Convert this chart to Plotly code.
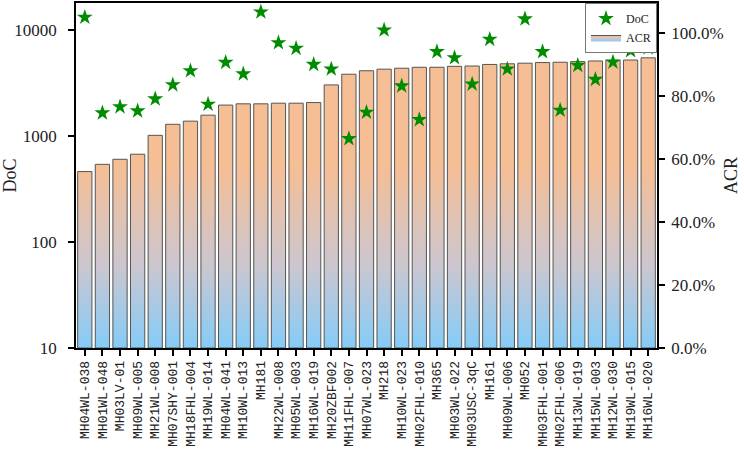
import plotly.graph_objects as go

samples = ["MH04WL-038", "MH01WL-048", "MH03LV-01", "MH09WL-005", "MH21WL-008",
           "MH07SHY-001", "MH18FHL-004", "MH19WL-014", "MH04WL-041", "MH10WL-013",
           "MH181", "MH22WL-008", "MH05WL-003", "MH16WL-019", "MH20ZBF002",
           "MH11FHL-007", "MH07WL-023", "MH218", "MH10WL-023", "MH02FHL-010",
           "MH365", "MH03WL-022", "MH03USC-3qC", "MH161", "MH09WL-006",
           "MH052", "MH03FHL-001", "MH02FHL-006", "MH13WL-019", "MH15WL-003",
           "MH12WL-030", "MH19WL-015", "MH16WL-020"]

doc = [13250, 1655, 1890, 1730, 2245, 3050, 4140, 2000, 4970, 3870,
       14860, 7620, 6740, 4750, 4300, 946, 1680, 10050, 2980, 1430,
       6270, 5500, 3100, 8200, 4300, 12770, 6270, 1755, 4650, 3430,
       5000, 6400, 6820]

acr = [56.0, 58.3, 59.9, 61.5, 67.5, 71.0, 72.0, 73.9, 77.1, 77.5,
       77.5, 77.7, 77.7, 77.9, 83.5, 86.9, 88.0, 88.5, 88.8, 89.1,
       89.1, 89.4, 89.5, 90.0, 90.2, 90.4, 90.6, 90.7, 90.9, 91.1,
       91.3, 91.4, 92.1]

acr_ticks = [0, 20, 40, 60, 80, 100]
acr_ticktext = [f"{t:.1f}%" for t in acr_ticks]
doc_ticks = [10, 100, 1000, 10000]

idx = list(range(len(samples)))
half = 0.405

# bar outlines built from data values
bx, by = [], []
for i, v in zip(idx, acr):
    bx += [i - half, i - half, i + half, i + half, i - half, None]
    by += [0, v, v, 0, 0, None]

fig = go.Figure()

fig.add_trace(go.Scatter(
    x=bx, y=by, mode="lines", fill="toself", name="ACR",
    line=dict(color="#555555", width=1),
    fillgradient=dict(type="vertical",
                      colorscale=[[0, "#84CCF8"], [0.45, "#CCC6CF"], [1, "#F6BE94"]],
                      start=0, stop=58),
    yaxis="y", hoverinfo="skip"))

fig.add_trace(go.Scatter(
    x=idx, y=doc, mode="markers", name="DoC",
    marker=dict(symbol="star", size=12, color="#008C00",
                line=dict(width=0)),
    yaxis="y2"))

serif = "Liberation Serif"
fig.update_layout(
    width=744, height=454,
    margin=dict(l=76, r=87, t=3, b=106, autoexpand=False),
    plot_bgcolor="white", paper_bgcolor="white",
    showlegend=True,
    legend=dict(x=1, y=1, xanchor="right", yanchor="top",
                bgcolor="white", bordercolor="#777777", borderwidth=1,
                font=dict(family=serif, size=12, color="#222"),
                traceorder="reversed", itemwidth=30,
                tracegroupgap=0),
    xaxis=dict(range=[-0.5, len(samples) - 0.5], tickmode="array",
               tickvals=idx, ticktext=samples, tickangle=-90,
               ticks="outside", ticklen=6, tickwidth=1.5, tickcolor="black",
               showline=True, linecolor="black", linewidth=1.5, mirror=True,
               showgrid=False, zeroline=False, automargin=False,
               tickfont=dict(family="Liberation Mono", size=13, color="#222")),
    yaxis=dict(side="right", range=[0, 109.5], tickmode="array",
               tickvals=acr_ticks, ticktext=acr_ticktext,
               ticks="outside", ticklen=6, tickwidth=1.5, tickcolor="black",
               ticklabelstandoff=3,
               showline=True, linecolor="black", linewidth=1.5,
               showgrid=False, zeroline=False, automargin=False,
               title=dict(text="ACR", font=dict(family=serif, size=18, color="#222"),
                          standoff=2),
               tickfont=dict(family=serif, size=17, color="#222")),
    yaxis2=dict(side="left", overlaying="y", type="log", range=[1, 4.257],
                tickmode="array", tickvals=doc_ticks,
                ticktext=[str(t) for t in doc_ticks],
                ticks="outside", ticklen=6, tickwidth=1.5, tickcolor="black",
                ticklabelstandoff=8,
                showline=True, linecolor="black", linewidth=1.5,
                showgrid=False, zeroline=False, automargin=False,
                title=dict(text="DoC", font=dict(family=serif, size=18, color="#222"),
                           standoff=0),
                tickfont=dict(family=serif, size=17, color="#222")),
)

fig.write_html("out.html", config={"displayModeBar": False},
               post_script="document.body.style.margin='0';document.body.style.overflow='hidden';")
